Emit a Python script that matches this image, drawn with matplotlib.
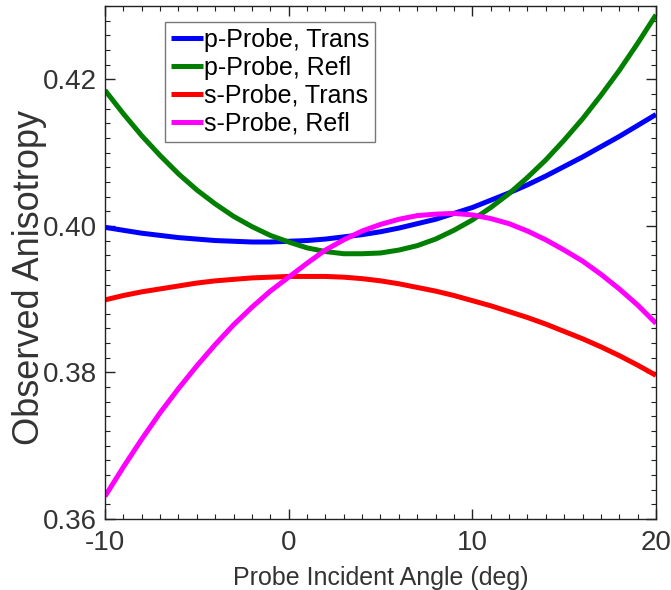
import matplotlib
matplotlib.use("Agg")
import matplotlib.pyplot as plt
from matplotlib.ticker import MultipleLocator

# Probe incident angle (deg)
angle = list(range(-10, 21))

# Observed anisotropy for each probe polarisation / detection geometry
p_trans = [0.3998, 0.3994, 0.3990, 0.3987, 0.3984, 0.3982, 0.3980, 0.3979,
           0.3978, 0.3978, 0.3979, 0.3980, 0.3982, 0.3985, 0.3988, 0.3992,
           0.3997, 0.4003, 0.4009, 0.4017, 0.4025, 0.4035, 0.4045, 0.4056,
           0.4068, 0.4081, 0.4094, 0.4108, 0.4122, 0.4137, 0.4152]
p_refl = [0.4185, 0.4153, 0.4123, 0.4096, 0.4071, 0.4049, 0.4030, 0.4013,
          0.3999, 0.3987, 0.3978, 0.3970, 0.3965, 0.3962, 0.3962, 0.3963,
          0.3967, 0.3973, 0.3982, 0.3994, 0.4008, 0.4025, 0.4044, 0.4066,
          0.4090, 0.4117, 0.4146, 0.4178, 0.4212, 0.4249, 0.4288]
s_trans = [0.3899, 0.3905, 0.3910, 0.3914, 0.3918, 0.3922, 0.3925, 0.3927,
           0.3929, 0.3930, 0.3931, 0.3931, 0.3931, 0.3930, 0.3928, 0.3925,
           0.3921, 0.3916, 0.3911, 0.3905, 0.3898, 0.3891, 0.3883, 0.3875,
           0.3866, 0.3856, 0.3846, 0.3835, 0.3823, 0.3810, 0.3796]
s_refl = [0.3631, 0.3671, 0.3709, 0.3745, 0.3778, 0.3809, 0.3838, 0.3865,
          0.3889, 0.3911, 0.3930, 0.3949, 0.3967, 0.3981, 0.3993, 0.4002,
          0.4009, 0.4014, 0.4016, 0.4017, 0.4015, 0.4010, 0.4003, 0.3993,
          0.3981, 0.3967, 0.3952, 0.3934, 0.3914, 0.3892, 0.3867]

series = [
    ("p-Probe, Trans", p_trans, "#0000ff"),
    ("p-Probe, Refl", p_refl, "#007f00"),
    ("s-Probe, Trans", s_trans, "#ff0000"),
    ("s-Probe, Refl", s_refl, "#ff00ff"),
]

plt.rcParams["font.family"] = ["Liberation Sans", "DejaVu Sans"]
plt.rcParams["axes.unicode_minus"] = False

fig = plt.figure(figsize=(6.71, 5.90), dpi=100)
ax = fig.add_axes([0.1565, 0.1203, 0.9776 - 0.1565, 0.9898 - 0.1203])

for label, vals, color in series:
    ax.plot(angle, vals, color=color, lw=3.6, label=label,
            solid_capstyle="butt", solid_joinstyle="round")

ax.set_xlim(-10, 20)
ax.set_ylim(0.36, 0.43)
ax.xaxis.set_major_locator(MultipleLocator(10))
ax.xaxis.set_minor_locator(MultipleLocator(1))
ax.yaxis.set_major_locator(MultipleLocator(0.02))
ax.yaxis.set_minor_locator(MultipleLocator(0.002))
ax.yaxis.set_major_formatter(plt.FuncFormatter(lambda v, p: f"{v:.2f}"))

ax.tick_params(which="both", direction="in", top=True, right=True,
               color="#222222", labelcolor="#333333")
ax.tick_params(which="major", length=7, width=1, labelsize=20)
ax.tick_params(axis="x", which="major", pad=8)
ax.tick_params(axis="y", which="major", pad=6)
ax.tick_params(which="minor", length=3.5, width=0.8)
for s in ax.spines.values():
    s.set_color("#222222")
    s.set_linewidth(1.0)

ax.set_xlabel("Probe Incident Angle (deg)", fontsize=18, color="#333333",
              labelpad=7)
ax.set_ylabel("Observed Anisotropy", fontsize=26, color="#333333")
ax.yaxis.set_label_coords(-0.105, 0.47)

leg = ax.legend(loc="upper left", bbox_to_anchor=(0.109, 0.969),
                fontsize=18, frameon=True, fancybox=False, shadow=False,
                handlelength=1.25, handletextpad=0.05, labelspacing=0.15,
                borderpad=0.25, borderaxespad=0)
leg.get_frame().set_edgecolor("#555555")
leg.get_frame().set_linewidth(1.0)

fig.savefig("out.png", dpi=100)
